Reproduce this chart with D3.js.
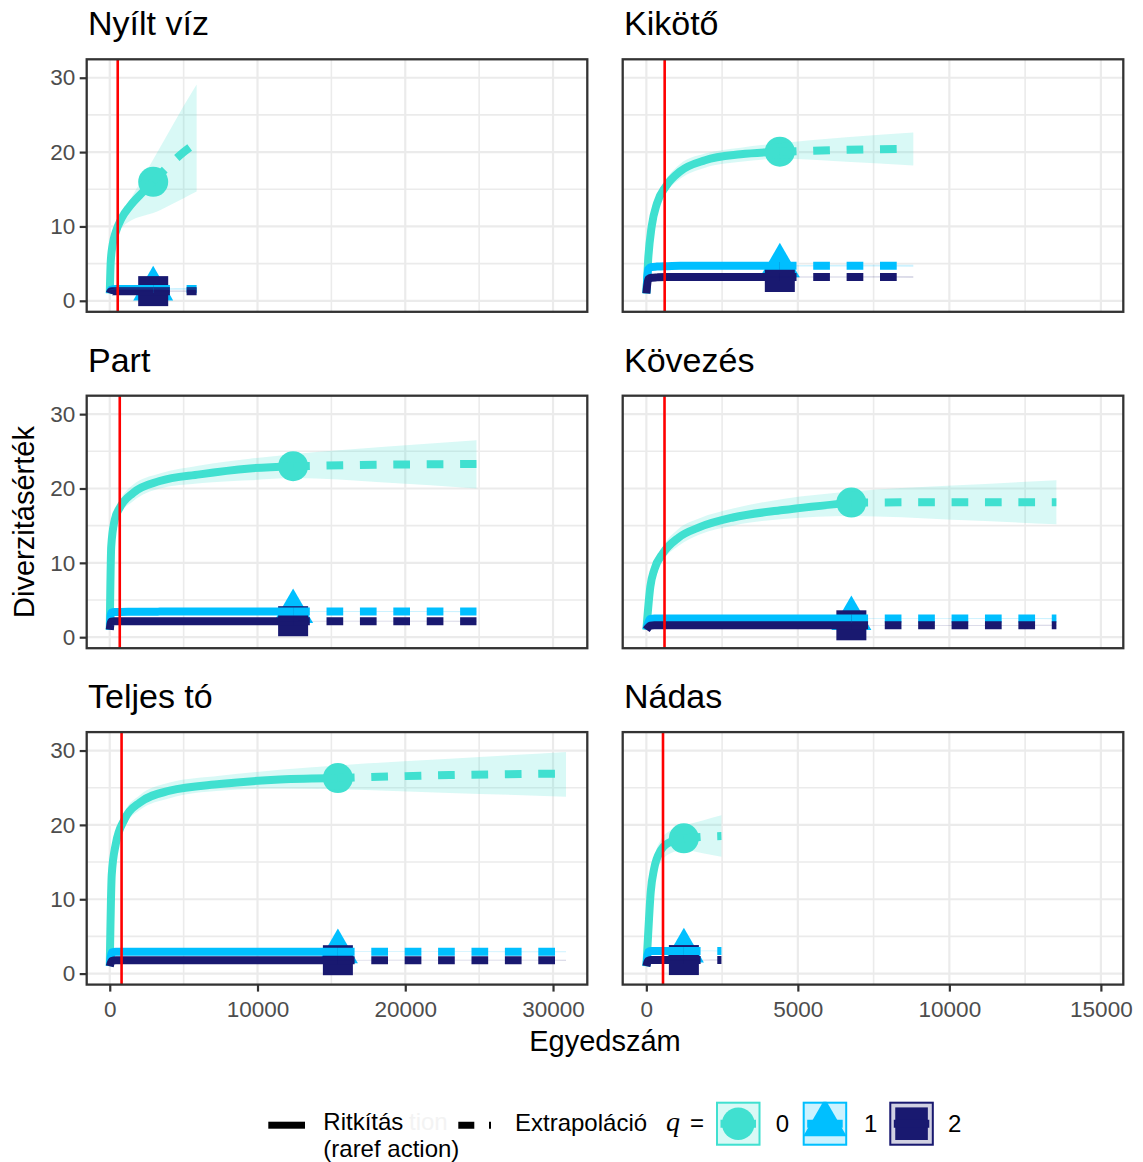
<!DOCTYPE html>
<html>
<head>
  <meta charset="utf-8">
  <script src="https://cdn.jsdelivr.net/npm/d3@7"></script>
  <title>Diverzitás</title>
<style>
body {
  margin: 0;
}
svg {
  background: #fff;
  font-family: "Liberation Sans", Arial, sans-serif;
}
</style>
</head>
<body>
<script>
var width = 1143,
    height = 1162;

// panels in reading order (two columns, three rows)
var panelNames = ['Nyílt víz', 'Kikötő', 'Part', 'Kövezés', 'Teljes tó', 'Nádas'];
// reference sample size (where the marker sits)
var refN = [2940, 4405, 12410, 6766, 15440, 1239];
// red reference line
var redLine = [540, 605, 677, 600, 800, 550];

var yTicks = [0, 10, 20, 30];
var yMinor = [5, 15, 25];
var leftTicks = [0, 10000, 20000, 30000];
var leftMinor = [5000, 15000, 25000];
var rightTicks = [0, 5000, 10000, 15000];
var rightMinor = [2500, 7500, 12500];

// Nyílt víz
var nyM    = [1, 65, 200, 400, 800, 1350, 2230, 2940, 4000, 5000, 5880];
var nyQ0   = [1, 5.2, 7.6, 9.2, 11.1, 12.7, 14.6, 16.0, 18.2, 20.0, 21.3];
var nyQ0Lo = [1, 4.9, 7.2, 8.6, 9.8, 10.7, 11.4, 11.8, 12.8, 13.8, 14.7];
var nyQ0Hi = [1, 5.5, 8.0, 9.8, 11.8, 13.5, 16.5, 19.0, 22.7, 26.2, 29.1];
var nyQ1   = [1, 1.5, 1.55, 1.6, 1.6, 1.6, 1.6, 1.6, 1.6, 1.6, 1.6];
var nyQ1Lo = [1, 1.45, 1.5, 1.52, 1.52, 1.52, 1.52, 1.52, 1.5, 1.48, 1.45];
var nyQ1Hi = [1, 1.55, 1.6, 1.68, 1.68, 1.68, 1.68, 1.68, 1.7, 1.72, 1.75];
var nyQ2   = [1, 1.25, 1.28, 1.3, 1.3, 1.3, 1.3, 1.3, 1.3, 1.3, 1.3];
var nyQ2Lo = [1, 1.2, 1.22, 1.24, 1.24, 1.24, 1.24, 1.24, 1.23, 1.22, 1.2];
var nyQ2Hi = [1, 1.3, 1.34, 1.36, 1.36, 1.36, 1.36, 1.36, 1.37, 1.38, 1.4];

// Kikötő
var kiM    = [1, 60, 176, 352, 646, 1116, 1939, 3114, 4405, 6600, 8810];
var kiQ0   = [1, 5.5, 10.0, 13.1, 15.4, 17.4, 18.9, 19.7, 20.05, 20.3, 20.45];
var kiQ0Lo = [1, 5.1, 9.2, 12.2, 14.5, 16.4, 17.9, 18.7, 19.1, 18.7, 18.2];
var kiQ0Hi = [1, 5.9, 10.8, 14.0, 16.3, 18.4, 19.8, 20.6, 21.2, 22.0, 22.65];
var kiQ1   = [1, 4.2, 4.55, 4.6, 4.65, 4.7, 4.7, 4.7, 4.7, 4.72, 4.72];
var kiQ1Lo = [1, 4.15, 4.5, 4.54, 4.58, 4.62, 4.62, 4.62, 4.62, 4.6, 4.58];
var kiQ1Hi = [1, 4.25, 4.6, 4.66, 4.72, 4.78, 4.78, 4.78, 4.78, 4.84, 4.86];
var kiQ2   = [1, 2.9, 3.1, 3.15, 3.2, 3.2, 3.2, 3.2, 3.2, 3.2, 3.2];
var kiQ2Lo = [1, 2.86, 3.06, 3.1, 3.14, 3.14, 3.14, 3.14, 3.14, 3.12, 3.1];
var kiQ2Hi = [1, 2.94, 3.14, 3.2, 3.26, 3.26, 3.26, 3.26, 3.26, 3.28, 3.3];

// Part
var paM    = [1, 100, 338, 677, 1578, 3385, 6093, 9479, 12410, 18600, 24820];
var paQ0   = [1, 12.2, 15.8, 17.4, 19.4, 21.0, 21.9, 22.7, 23.0, 23.2, 23.3];
var paQ0Lo = [1, 11.5, 15.0, 16.5, 18.3, 20.0, 20.7, 21.1, 21.4, 20.8, 20.0];
var paQ0Hi = [1, 12.9, 16.6, 18.3, 20.5, 22.0, 23.1, 24.0, 24.6, 25.6, 26.5];
var paQ1   = [1, 3.3, 3.4, 3.4, 3.42, 3.44, 3.45, 3.45, 3.45, 3.45, 3.45];
var paQ1Lo = [1, 3.25, 3.35, 3.35, 3.37, 3.39, 3.4, 3.4, 3.4, 3.38, 3.36];
var paQ1Hi = [1, 3.35, 3.45, 3.45, 3.47, 3.49, 3.5, 3.5, 3.5, 3.52, 3.54];
var paQ2   = [1, 2.1, 2.15, 2.15, 2.15, 2.15, 2.15, 2.15, 2.15, 2.15, 2.15];
var paQ2Lo = [1, 2.06, 2.11, 2.11, 2.11, 2.11, 2.11, 2.11, 2.11, 2.1, 2.09];
var paQ2Hi = [1, 2.14, 2.19, 2.19, 2.19, 2.19, 2.19, 2.19, 2.19, 2.2, 2.21];

// Kövezés
var koM    = [1, 132, 264, 549, 1066, 1759, 2858, 4508, 6766, 10100, 13532];
var koQ0   = [1, 6.8, 9.1, 11.3, 13.4, 14.8, 16.1, 17.1, 18.1, 18.15, 18.15];
var koQ0Lo = [1, 6.3, 8.5, 10.4, 12.3, 13.8, 15.0, 15.9, 16.3, 15.8, 15.2];
var koQ0Hi = [1, 7.3, 9.7, 12.2, 14.6, 16.0, 17.3, 18.6, 19.6, 20.4, 21.1];
var koQ1   = [1, 2.45, 2.5, 2.5, 2.5, 2.5, 2.5, 2.5, 2.5, 2.5, 2.5];
var koQ1Lo = [1, 2.4, 2.45, 2.45, 2.45, 2.45, 2.45, 2.45, 2.45, 2.44, 2.43];
var koQ1Hi = [1, 2.5, 2.55, 2.55, 2.55, 2.55, 2.55, 2.55, 2.55, 2.56, 2.57];
var koQ2   = [1, 1.55, 1.6, 1.6, 1.6, 1.6, 1.6, 1.6, 1.6, 1.6, 1.6];
var koQ2Lo = [1, 1.51, 1.56, 1.56, 1.56, 1.56, 1.56, 1.56, 1.56, 1.55, 1.54];
var koQ2Hi = [1, 1.59, 1.64, 1.64, 1.64, 1.64, 1.64, 1.64, 1.64, 1.65, 1.66];

// Teljes tó
var teM    = [1, 135, 406, 1016, 2031, 4062, 7448, 11510, 15440, 23000, 30880];
var teQ0   = [1, 13.3, 17.4, 20.8, 23.0, 24.6, 25.5, 26.1, 26.3, 26.7, 26.9];
var teQ0Lo = [1, 12.5, 16.4, 19.8, 22.0, 23.6, 24.6, 24.9, 24.8, 24.3, 23.8];
var teQ0Hi = [1, 14.0, 18.3, 21.8, 24.0, 25.7, 26.6, 27.4, 28.0, 28.9, 29.8];
var teQ1   = [1, 2.85, 2.95, 2.95, 2.95, 2.95, 2.95, 2.95, 2.95, 2.95, 2.95];
var teQ1Lo = [1, 2.8, 2.9, 2.9, 2.9, 2.9, 2.9, 2.9, 2.9, 2.89, 2.88];
var teQ1Hi = [1, 2.9, 3.0, 3.0, 3.0, 3.0, 3.0, 3.0, 3.0, 3.01, 3.02];
var teQ2   = [1, 1.7, 1.8, 1.8, 1.8, 1.8, 1.8, 1.8, 1.8, 1.8, 1.8];
var teQ2Lo = [1, 1.66, 1.76, 1.76, 1.76, 1.76, 1.76, 1.76, 1.76, 1.75, 1.74];
var teQ2Hi = [1, 1.74, 1.84, 1.84, 1.84, 1.84, 1.84, 1.84, 1.84, 1.85, 1.86];

// Nádas
var naM    = [1, 56, 145, 257, 480, 703, 1239, 1860, 2478];
var naQ0   = [1, 5.0, 11.0, 14.1, 16.6, 17.5, 18.2, 18.4, 18.5];
var naQ0Lo = [1, 4.5, 10.0, 12.8, 15.0, 16.0, 16.6, 16.2, 15.7];
var naQ0Hi = [1, 5.5, 12.0, 15.3, 18.0, 19.0, 19.9, 20.6, 21.3];
var naQ1   = [1, 2.9, 3.05, 3.05, 3.05, 3.05, 3.05, 3.05, 3.05];
var naQ1Lo = [1, 2.85, 3.0, 3.0, 3.0, 3.0, 3.0, 2.99, 2.98];
var naQ1Hi = [1, 2.95, 3.1, 3.1, 3.1, 3.1, 3.1, 3.11, 3.12];
var naQ2   = [1, 1.7, 1.82, 1.82, 1.82, 1.82, 1.82, 1.82, 1.82];
var naQ2Lo = [1, 1.66, 1.78, 1.78, 1.78, 1.78, 1.78, 1.77, 1.76];
var naQ2Hi = [1, 1.74, 1.86, 1.86, 1.86, 1.86, 1.86, 1.87, 1.88];

var qColors = ['#40E0D0', '#00BFFF', '#191970'];
var qFills = ['#d9f9f6', '#ccf2ff', '#d1d1e2'];

var panelSeries = [
  {m: nyM, q: [nyQ0, nyQ1, nyQ2], lo: [nyQ0Lo, nyQ1Lo, nyQ2Lo], hi: [nyQ0Hi, nyQ1Hi, nyQ2Hi]},
  {m: kiM, q: [kiQ0, kiQ1, kiQ2], lo: [kiQ0Lo, kiQ1Lo, kiQ2Lo], hi: [kiQ0Hi, kiQ1Hi, kiQ2Hi]},
  {m: paM, q: [paQ0, paQ1, paQ2], lo: [paQ0Lo, paQ1Lo, paQ2Lo], hi: [paQ0Hi, paQ1Hi, paQ2Hi]},
  {m: koM, q: [koQ0, koQ1, koQ2], lo: [koQ0Lo, koQ1Lo, koQ2Lo], hi: [koQ0Hi, koQ1Hi, koQ2Hi]},
  {m: teM, q: [teQ0, teQ1, teQ2], lo: [teQ0Lo, teQ1Lo, teQ2Lo], hi: [teQ0Hi, teQ1Hi, teQ2Hi]},
  {m: naM, q: [naQ0, naQ1, naQ2], lo: [naQ0Lo, naQ1Lo, naQ2Lo], hi: [naQ0Hi, naQ1Hi, naQ2Hi]}
];

var svg = d3.select('body').append('svg')
  .attr('width', width)
  .attr('height', height);

// panel geometry
var colLeft = [86.7, 622.7],
    panelW = 500.6,
    rowTop = [59.3, 395.7, 732.1],
    panelH = 252.5;
var xDomains = [[-1560, 32320], [-780, 15740]];
var xTickSets = [leftTicks, rightTicks];
var xMinorSets = [leftMinor, rightMinor];

function triangle(cx, cy) {
  var p = d3.path();
  p.moveTo(cx, cy - 23.1);
  p.lineTo(cx + 20, cy + 11.5);
  p.lineTo(cx - 20, cy + 11.5);
  p.closePath();
  return p.toString();
}

function drawMarker(g, q, cx, cy, r) {
  var s = r / 15;
  if (q === 0) {
    g.append('circle').attr('cx', cx).attr('cy', cy).attr('r', 15 * s)
      .attr('fill', qColors[0]);
  } else if (q === 1) {
    g.append('path')
      .attr('d', triangle(0, 0))
      .attr('transform', 'translate(' + cx + ',' + cy + ') scale(' + s + ')')
      .attr('fill', qColors[1]);
  } else {
    g.append('rect').attr('x', cx - 15 * s).attr('y', cy - 15 * s)
      .attr('width', 30 * s).attr('height', 30 * s)
      .attr('fill', qColors[2]);
  }
}

function styleAxis(a) {
  a.select('.domain').remove();
  a.selectAll('.tick line').attr('stroke', '#333333').attr('stroke-width', 2.2);
  a.selectAll('.tick text').attr('fill', '#4d4d4d').attr('font-size', 22.5)
    .attr('font-family', '"Liberation Sans", Arial, sans-serif');
}

panelNames.forEach(function (name, i) {
  var col = i % 2,
      row = Math.floor(i / 2),
      px = colLeft[col],
      py = rowTop[row];
  var x = d3.scaleLinear().domain(xDomains[col]).range([px, px + panelW]);
  var y = d3.scaleLinear().domain([-1.48, 32.48]).range([py + panelH, py]);
  var d = panelSeries[i];
  var n = refN[i];

  var g = svg.append('g');
  g.append('clipPath').attr('id', 'clip' + i)
    .append('rect').attr('x', px).attr('y', py).attr('width', panelW).attr('height', panelH);

  // minor grid
  g.selectAll('.vminor').data(xMinorSets[col]).enter().append('line')
    .attr('x1', function (v) { return x(v); }).attr('x2', function (v) { return x(v); })
    .attr('y1', py).attr('y2', py + panelH)
    .attr('stroke', '#ebebeb').attr('stroke-width', 1.6);
  g.selectAll('.hminor').data(yMinor).enter().append('line')
    .attr('y1', function (v) { return y(v); }).attr('y2', function (v) { return y(v); })
    .attr('x1', px).attr('x2', px + panelW)
    .attr('stroke', '#ebebeb').attr('stroke-width', 1.6);
  // major grid
  g.selectAll('.vmajor').data(xTickSets[col]).enter().append('line')
    .attr('x1', function (v) { return x(v); }).attr('x2', function (v) { return x(v); })
    .attr('y1', py).attr('y2', py + panelH)
    .attr('stroke', '#ebebeb').attr('stroke-width', 2.2);
  g.selectAll('.hmajor').data(yTicks).enter().append('line')
    .attr('y1', function (v) { return y(v); }).attr('y2', function (v) { return y(v); })
    .attr('x1', px).attr('x2', px + panelW)
    .attr('stroke', '#ebebeb').attr('stroke-width', 2.2);

  var plot = g.append('g').attr('clip-path', 'url(#clip' + i + ')');
  var k = d.m.indexOf(n);

  // markers at the reference sample size
  [0, 1, 2].forEach(function (q) {
    drawMarker(plot, q, x(n), y(d.q[q][k]), 15);
  });

  // curves: rarefaction solid, extrapolation dashed
  [0, 1, 2].forEach(function (q) {
    var pts = d.m.map(function (m, j) { return [m, d.q[q][j]]; });
    var line = d3.line()
      .x(function (p) { return x(p[0]); })
      .y(function (p) { return y(p[1]); })
      .curve(d3.curveMonotoneX);
    plot.append('path')
      .attr('d', line(pts.slice(0, k + 1)))
      .attr('fill', 'none').attr('stroke', qColors[q]).attr('stroke-width', 8)
      .attr('stroke-linejoin', 'round');
    plot.append('path')
      .attr('d', line(pts.slice(k)))
      .attr('fill', 'none').attr('stroke', qColors[q]).attr('stroke-width', 8)
      .attr('stroke-dasharray', '16.7,16.7');
  });

  // confidence ribbons
  [0, 1, 2].forEach(function (q) {
    var area = d3.area()
      .x(function (m) { return x(m); })
      .y0(function (m, j) { return y(d.lo[q][j]); })
      .y1(function (m, j) { return y(d.hi[q][j]); })
      .curve(d3.curveMonotoneX);
    plot.append('path')
      .attr('d', area(d.m))
      .attr('fill', qColors[q]).attr('fill-opacity', 0.2);
  });

  // red line
  plot.append('line')
    .attr('x1', x(redLine[i])).attr('x2', x(redLine[i]))
    .attr('y1', py).attr('y2', py + panelH)
    .attr('stroke', '#ff0000').attr('stroke-width', 2.6);

  // border
  g.append('rect').attr('x', px).attr('y', py).attr('width', panelW).attr('height', panelH)
    .attr('fill', 'none').attr('stroke', '#333333').attr('stroke-width', 2.3);

  // strip title
  g.append('text').attr('x', px + 1.3).attr('y', py - 24)
    .attr('font-size', 34).attr('fill', '#000').text(name);

  // axes
  if (col === 0) {
    var ya = g.append('g').attr('transform', 'translate(' + px + ',0)')
      .call(d3.axisLeft(y).tickValues(yTicks).tickSize(7).tickPadding(4.5));
    styleAxis(ya);
  }
  if (row === 2) {
    var xa = g.append('g').attr('transform', 'translate(0,' + (py + panelH) + ')')
      .call(d3.axisBottom(x).tickValues(xTickSets[col]).tickSize(7).tickPadding(9)
        .tickFormat(d3.format('d')));
    styleAxis(xa);
  }
});

// axis titles
svg.append('text').attr('x', 605).attr('y', 1051).attr('text-anchor', 'middle')
  .attr('font-size', 29).text('Egyedszám');
svg.append('text').attr('transform', 'translate(34,522) rotate(-90)')
  .attr('text-anchor', 'middle').attr('font-size', 29).text('Diverzitásérték');

// legend
var lg = svg.append('g');
lg.append('rect').attr('x', 268.3).attr('y', 1121.7).attr('width', 36.7).attr('height', 7).attr('fill', '#000');
var rt = lg.append('text').attr('font-size', 24);
rt.append('tspan').attr('x', 323.3).attr('y', 1129.5).text('Ritkítás');
rt.append('tspan').attr('x', 409).attr('y', 1129.5).attr('fill', '#f3f3f3').text('tion');
rt.append('tspan').attr('x', 323.3).attr('y', 1156.5).text('(raref action)');
lg.append('line').attr('x1', 458.3).attr('x2', 495).attr('y1', 1125.2).attr('y2', 1125.2)
  .attr('stroke', '#000').attr('stroke-width', 7).attr('stroke-dasharray', '16,14.7');
lg.append('rect').attr('x', 491).attr('y', 1118).attr('width', 6).attr('height', 14).attr('fill', '#fff');
lg.append('text').attr('x', 515).attr('y', 1131).attr('font-size', 24).text('Extrapoláció');
lg.append('text').attr('x', 666).attr('y', 1131).attr('font-size', 28)
  .attr('font-style', 'italic').attr('font-family', '"Liberation Serif", serif').text('q');
lg.append('text').attr('x', 690).attr('y', 1131).attr('font-size', 24).text('=');

var keyX = [716, 802.7, 889.3];
var keyLabelX = [775.7, 864, 948];
['0', '1', '2'].forEach(function (lab, q) {
  var kx = keyX[q], ky = 1101.7, kw = 44.5, kh = 44;
  lg.append('clipPath').attr('id', 'kclip' + q)
    .append('rect').attr('x', kx).attr('y', ky).attr('width', kw).attr('height', kh);
  var kg = lg.append('g').attr('clip-path', 'url(#kclip' + q + ')');
  kg.append('rect').attr('x', kx).attr('y', ky).attr('width', kw).attr('height', kh)
    .attr('fill', qFills[q]);
  drawMarker(kg, q, kx + kw / 2, ky + kh / 2, 16.3);
  kg.append('line').attr('x1', kx + 4.5).attr('x2', kx + kw - 4.5)
    .attr('y1', ky + kh / 2).attr('y2', ky + kh / 2)
    .attr('stroke', qColors[q]).attr('stroke-width', 8);
  lg.append('rect').attr('x', kx + 1).attr('y', ky + 1).attr('width', kw - 2).attr('height', kh - 2)
    .attr('fill', 'none').attr('stroke', qColors[q]).attr('stroke-width', 2);
  lg.append('text').attr('x', keyLabelX[q]).attr('y', 1131.7).attr('font-size', 24).text(lab);
});
</script>
</body>
</html>
